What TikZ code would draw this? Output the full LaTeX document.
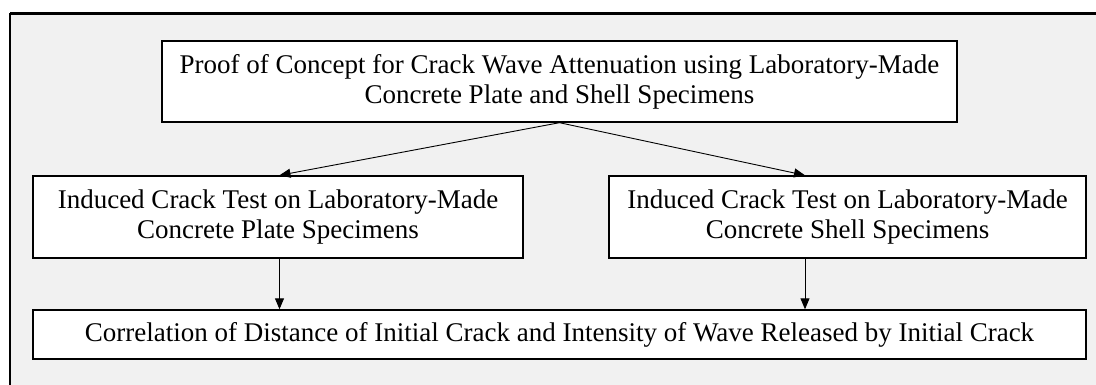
\documentclass[tikz,border=0pt]{standalone}
\usepackage{fontspec}
\setmainfont{Liberation Serif}
\usetikzlibrary{arrows.meta,calc}
\definecolor{bgc}{RGB}{241,241,241}
\tikzset{
  box/.style={draw=black, line width=1.4pt, fill=white, align=center, inner sep=0pt,
    font=\fontsize{27}{30}\selectfont},
  arr/.style={line width=0.9pt, -{Triangle[length=11pt,width=9pt]}}
}
\begin{document}
\begin{tikzpicture}[x=1pt,y=-1pt]
\useasboundingbox (0,0) rectangle (1096,385);
\begin{scope}
\clip (0,0) rectangle (1096,385);
\draw[fill=bgc, line width=2pt] (10,14) rectangle (1110,400);
\draw[line width=3pt] (10,14) -- (1110,14);
\end{scope}
\node[box, minimum width=795pt, minimum height=81pt] (top) at (559.5,81.5)
  {Proof of Concept for Crack Wave Attenuation using Laboratory-Made\\Concrete Plate and Shell Specimens};
\node[box, minimum width=490pt, minimum height=82pt] (left) at (278,217)
  {Induced Crack Test on Laboratory-Made\\Concrete Plate Specimens};
\node[box, minimum width=477pt, minimum height=82pt] (right) at (847.5,217)
  {Induced Crack Test on Laboratory-Made\\Concrete Shell Specimens};
\node[box, minimum width=1053pt, minimum height=49pt] (bottom) at (559.5,334.5)
  {Correlation of Distance of Initial Crack and Intensity of Wave Released by Initial Crack};
\coordinate (lx) at (279.5,0);
\coordinate (rx) at (805,0);
\draw[arr] (top.south) -- (left.north -| lx);
\draw[arr] (top.south) -- (right.north -| rx);
\draw[arr] (left.south -| lx) -- (bottom.north -| lx);
\draw[arr] (right.south -| rx) -- (bottom.north -| rx);
\end{tikzpicture}
\end{document}
